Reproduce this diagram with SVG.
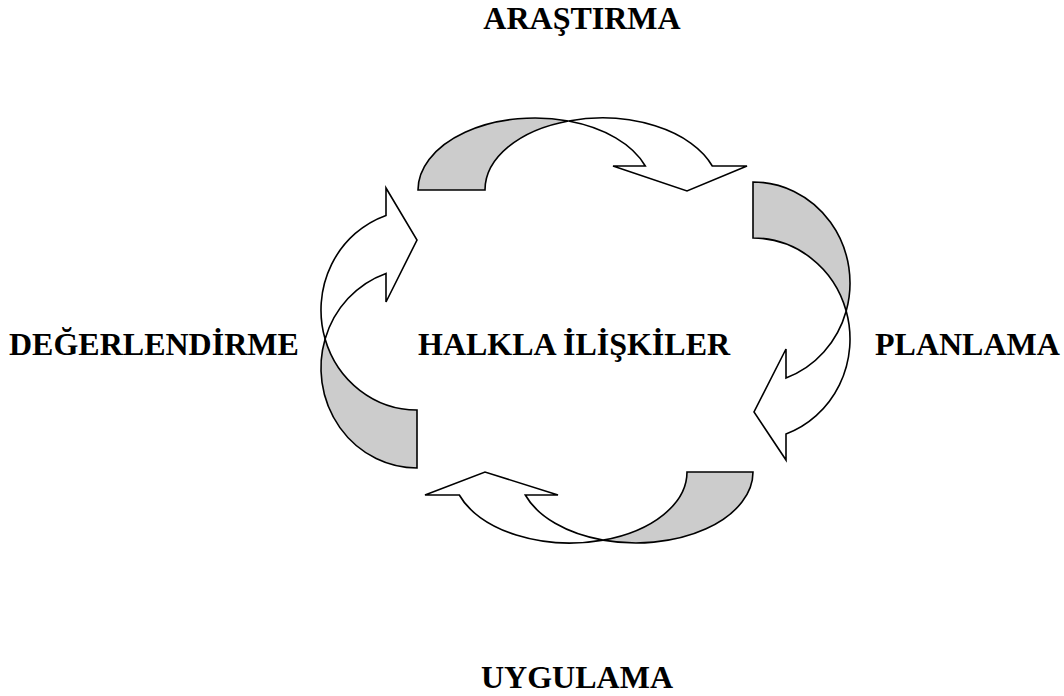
<svg xmlns="http://www.w3.org/2000/svg" width="1064" height="696" viewBox="0 0 1064 696">
<style>
.lbl{font-family:"Liberation Serif","Times New Roman",serif;font-weight:bold;font-size:32px;fill:#000}
.back{fill:#cccccc;stroke:#000;stroke-width:1.6;stroke-linejoin:miter}
.front{fill:#ffffff;stroke:#000;stroke-width:1.6;stroke-linejoin:miter}
</style>
<rect width="1064" height="696" fill="#ffffff"/>
<g id="connectors">
  <g id="arrow-top">
    <path class="back" d="M418,190 A117,72 0 0 1 568.5,121 A117,72 0 0 0 485,190 Z"/>
    <path class="front" d="M568.5,121 A117,72 0 0 1 712.3,166 L747,166 L687,191 L613,166 L645.3,166 A117,72 0 0 0 568.5,121 Z"/>
  </g>
  <g id="arrow-right">
    <path class="back" d="M753,182 A97,101 0 0 1 846.2,311 A97,101 0 0 0 753,238 Z"/>
    <path class="front" d="M846.2,311 A97,101 0 0 1 786,434 L786,460 L754,412 L786,349 L786,378 A97,101 0 0 0 846.2,311 Z"/>
  </g>
  <g id="arrow-bottom">
    <path class="back" d="M753,472 A117,71 0 0 1 603,540.1 A117,71 0 0 0 687,472 Z"/>
    <path class="front" d="M603,540.1 A117,71 0 0 1 459.3,495 L425,495 L485,472 L558,495 L525.3,495 A117,71 0 0 0 603,540.1 Z"/>
  </g>
  <g id="arrow-left">
    <path class="back" d="M417,468 A96,100 0 0 1 325.1,339 A96,100 0 0 0 417,410 Z"/>
    <path class="front" d="M325.1,339 A96,100 0 0 1 386,215.4 L386,188 L417,240 L386,302 L386,273.4 A96,100 0 0 0 325.1,339 Z"/>
  </g>
</g>
<g id="node-arastirma"><text class="lbl" x="582" y="29" text-anchor="middle">ARAŞTIRMA</text></g>
<g id="node-planlama"><text class="lbl" x="875" y="355">PLANLAMA</text></g>
<g id="node-uygulama"><text class="lbl" x="577" y="688" text-anchor="middle">UYGULAMA</text></g>
<g id="node-degerlendirme"><text class="lbl" x="9" y="355">DEĞERLENDİRME</text></g>
<g id="node-center"><text class="lbl" x="418" y="355">HALKLA İLİŞKİLER</text></g>
</svg>
